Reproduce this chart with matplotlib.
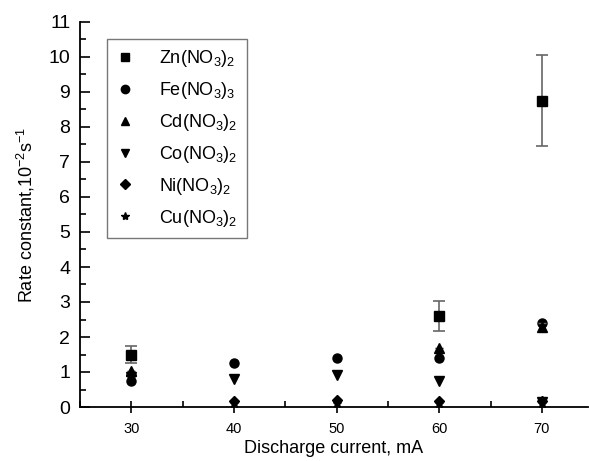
import matplotlib
matplotlib.use("Agg")
import matplotlib.pyplot as plt
from matplotlib.ticker import MultipleLocator
from matplotlib.lines import Line2D

plt.rcParams['font.family'] = ['Liberation Sans', 'DejaVu Sans']
plt.rcParams['mathtext.fontset'] = 'custom'
plt.rcParams['mathtext.rm'] = 'Liberation Sans'
plt.rcParams['mathtext.it'] = 'Liberation Sans'

current = [30, 40, 50, 60, 70]
zn_x = [30, 60, 70]
zn_y = [1.5, 2.6, 8.75]
zn_err = [0.25, 0.42, 1.3]
fe_y = [0.75, 1.27, 1.4, 1.4, 2.4]
cd_x = [30, 60, 70]
cd_y = [1.02, 1.7, 2.3]
cd_err = [0.0, 0.0, 0.1]
co_y = [0.85, 0.8, 0.92, 0.75, 0.15]
ni_y = [0.92, 0.18, 0.2, 0.18, 0.18]
cu_y = [0.9, 0.12, 0.12, 0.12, 0.12]

labels = [r'Zn(NO$_3$)$_2$', r'Fe(NO$_3$)$_3$', r'Cd(NO$_3$)$_2$',
          r'Co(NO$_3$)$_2$', r'Ni(NO$_3$)$_2$', r'Cu(NO$_3$)$_2$']
markers = ['s', 'o', '^', 'v', 'D', '*']

fig = plt.figure(figsize=(5.89, 4.61), dpi=100)
ax = fig.add_axes([80/589, 54/461, 508/589, 385/461])

ms = 6.5
ax.errorbar(zn_x, zn_y, yerr=zn_err, fmt='s', color='black', ms=ms,
            ecolor='#666666', elinewidth=1.2, capsize=4, capthick=1.2)
ax.plot(current, fe_y, 'o', color='black', ms=ms)
ax.errorbar(cd_x, cd_y, yerr=cd_err, fmt='^', color='black', ms=ms,
            ecolor='#666666', elinewidth=1.0, capsize=3)
ax.plot(current, co_y, 'v', color='black', ms=ms)
ax.plot(current, ni_y, 'D', color='black', ms=5.5)
ax.plot(current, cu_y, '*', color='black', ms=ms)

ax.set_xlim(25, 74.5)
ax.set_ylim(0, 11)
ax.set_xticks(current)
ax.xaxis.set_minor_locator(MultipleLocator(5))
ax.yaxis.set_major_locator(MultipleLocator(1))
ax.yaxis.set_minor_locator(MultipleLocator(0.5))
ax.spines['top'].set_visible(False)
ax.spines['right'].set_visible(False)
ax.spines['left'].set_linewidth(1.3)
ax.spines['bottom'].set_linewidth(1.3)
ax.tick_params(axis='x', which='major', direction='inout', length=8, width=1.2, labelsize=10.5, pad=7)
ax.tick_params(axis='x', which='minor', direction='in', length=4, width=1.2)
ax.tick_params(axis='y', which='major', direction='in', length=7, width=1.2, labelsize=14, pad=7)
ax.tick_params(axis='y', which='minor', direction='in', length=4, width=1.2)

ax.set_xlabel('Discharge current, mA', fontsize=13, labelpad=3)
ax.set_ylabel(r'Rate constant,10$^{-2}$s$^{-1}$', fontsize=13, labelpad=8)

handles = [Line2D([], [], linestyle='none', marker=m, color='black',
                  ms=(5 if m == 'D' else 6)) for m in markers]
leg = ax.legend(handles, labels, loc='upper left', bbox_to_anchor=(0.053, 0.955), fontsize=13,
                frameon=True, fancybox=False, edgecolor='#555555',
                labelspacing=0.6, handletextpad=1.4, borderpad=0.5,
                handlelength=1.0, borderaxespad=0)
leg.get_frame().set_linewidth(1.0)

fig.savefig('out.png', dpi=100)
